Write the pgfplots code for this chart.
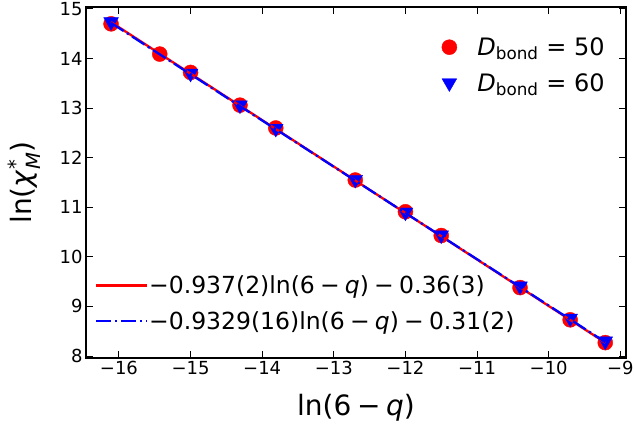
\documentclass[border=0pt]{standalone}
\usepackage{fontspec}
\setmainfont{DejaVu Sans}
\usepackage{amsmath}
\usepackage{pgfplots}
\pgfplotsset{compat=1.18}
\pgfplotsset{markleg/.style={legend image code/.code={\draw[##1] plot coordinates {(0pt,0pt)}; \path[draw=none,fill=none] (-8pt,-1pt) rectangle (26pt,1pt);}}}
\begin{document}
\begin{tikzpicture}
\path[use as bounding box] (-86pt,-72pt) rectangle (548pt,358pt);
\pgfplotsset{
 common/.style={scale only axis, width=540pt, height=351pt,
   xmin=-16.46, xmax=-8.92, ymin=7.96, ymax=15.04,
   at={(0pt,0pt)}, anchor=south west}
}
\begin{axis}[common,
  axis line style={line width=1.2pt},
  tick style={line width=1pt, black},
  tick align=inside, major tick length=7pt,
  xtick={-16,-15,-14,-13,-12,-11,-10,-9},
  xticklabels={−16,−15,−14,−13,−12,−11,−10,−9},
  ytick={8,9,10,11,12,13,14,15},
  yticklabels={8,9,10,11,12,13,14,15},
  tick label style={font=\fontsize{18}{21}\selectfont},
  xlabel={ln(6\hspace{0.2em}−\hspace{0.2em}\textit{q})},
  ylabel={$\text{ln(}\text{\textit{χ}}^{\text{*}}_{\text{\textit{M}}}\text{)}$},
  label style={font=\fontsize{28}{32}\selectfont},
  xlabel style={at={(axis description cs:0.5,-0.142)}, anchor=center},
  ylabel style={at={(axis description cs:-0.115,0.5)}, anchor=center},
  legend style={draw=none, fill=none, at={(rel axis cs:0.970,0.925)}, anchor=north east,
    font=\fontsize{24}{28}\selectfont, row sep=12.5pt},
  legend cell align=left,
]
\addplot[only marks, mark=*, mark size=7.5pt, color=red, markleg] coordinates {
(-16.11,14.70) (-15.43,14.09) (-15.00,13.72) (-14.31,13.06) (-13.81,12.60)
(-12.70,11.55) (-12.00,10.91) (-11.50,10.43) (-10.40,9.38) (-9.70,8.73) (-9.21,8.27)};
\addlegendentry{\textit{D}\textsubscript{bond}\hspace{0.32em}=\hspace{0.32em}50}
\addplot[only marks, mark=triangle*, mark size=8.5pt, mark options={rotate=180}, color=blue, markleg] coordinates {
(-16.11,14.74) (-15.00,13.70) (-14.31,13.06) (-13.81,12.59) (-12.70,11.56)
(-12.00,10.90) (-11.50,10.44) (-10.40,9.41) (-9.70,8.76) (-9.21,8.30)};
\addlegendentry{\textit{D}\textsubscript{bond}\hspace{0.32em}=\hspace{0.32em}60}
\end{axis}
\begin{axis}[common, hide axis,
  legend style={draw=none, fill=none, at={(rel axis cs:0.0105,0.066)}, anchor=south west,
    font=\fontsize{23.5}{27}\selectfont, row sep=12pt, nodes={inner xsep=1pt}},
  legend cell align=left,
  legend image code/.code={\draw[#1] (0pt,0pt) -- (51pt,0pt);},
]
\addplot[red, line width=2.3pt] coordinates {(-16.11,14.735) (-9.21,8.270)};
\addlegendentry{−0.937(2)ln(6\hspace{0.22em}−\hspace{0.22em}\textit{q})\hspace{0.22em}−\hspace{0.22em}0.36(3)}
\addplot[blue, line width=2.3pt, dash pattern=on 15pt off 3.8pt on 2.4pt off 3.8pt] coordinates {(-16.11,14.719) (-9.21,8.282)};
\addlegendentry{−0.9329(16)ln(6\hspace{0.22em}−\hspace{0.22em}\textit{q})\hspace{0.22em}−\hspace{0.22em}0.31(2)}
\end{axis}
\end{tikzpicture}
\end{document}
